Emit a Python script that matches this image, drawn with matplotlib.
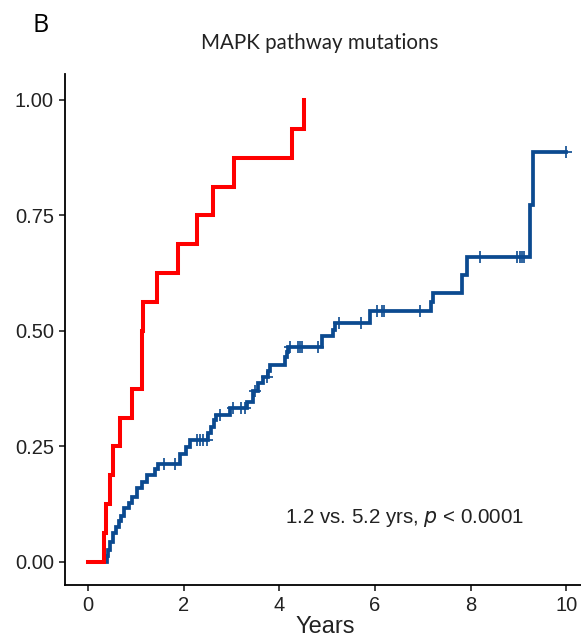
import numpy as np
import matplotlib
matplotlib.use("Agg")
import matplotlib.pyplot as plt

# MAPK-mutated group (red): step times (years) and cumulative incidence
red_times = [0.34, 0.38, 0.47, 0.53, 0.66, 0.93, 1.13, 1.16, 1.44, 1.89,
             2.27, 2.62, 3.05, 4.26, 4.52]
red_values = [0.0625, 0.125, 0.1875, 0.25, 0.3125, 0.375, 0.5, 0.5625, 0.625,
              0.6875, 0.75, 0.8125, 0.875, 0.9375, 1.0]

# wild-type group (blue)
blue_times = [0.40, 0.42, 0.47, 0.53, 0.58, 0.65, 0.70, 0.76, 0.86, 0.93,
              1.02, 1.12, 1.23, 1.40, 1.47, 1.92, 2.05, 2.13, 2.52, 2.58,
              2.64, 2.68, 2.97, 3.32, 3.46, 3.56, 3.67, 3.76, 3.81, 4.12,
              4.16, 4.19, 4.89, 5.12, 5.17, 5.90, 7.18, 7.22, 7.82, 7.92,
              9.25, 9.30]
blue_values = [0.013, 0.026, 0.044, 0.063, 0.076, 0.089, 0.100, 0.116, 0.128, 0.141,
               0.160, 0.174, 0.188, 0.200, 0.212, 0.234, 0.248, 0.263, 0.278, 0.293,
               0.307, 0.318, 0.333, 0.347, 0.369, 0.387, 0.401, 0.413, 0.426, 0.444,
               0.455, 0.466, 0.488, 0.503, 0.517, 0.542, 0.562, 0.582, 0.621, 0.659,
               0.773, 0.888]
blue_censor = [1.58, 1.82, 2.27, 2.34, 2.41, 2.48, 2.76, 3.04, 3.20, 3.28,
               3.50, 3.74, 4.23, 4.40, 4.44, 4.47, 4.82, 5.24, 5.70, 6.04,
               6.14, 6.19, 6.95, 8.20, 8.98, 9.03, 9.07, 9.12, 10.0]

red_c = "#FF0000"
blue_c = "#0B4A90"

fig = plt.figure(figsize=(5.81, 6.39), dpi=100)
ax = fig.add_axes([65 / 581, 1 - 585 / 639, (581 - 65) / 581, (585 - 74) / 639])

# blue curve, extended to last censor
bx = [0] + blue_times + [blue_censor[-1]]
by = [0] + blue_values + [blue_values[-1]]
ax.step(bx, by, where="post", color=blue_c, lw=2.7, solid_joinstyle="miter", zorder=2)

# censor marks sit on the curve
idx = np.searchsorted(bx, blue_censor, side="right") - 1
cy = np.array(by)[idx]
ax.plot(blue_censor, cy, ls="none", marker="+", ms=8, mew=1.2, color=blue_c, zorder=2)

# red curve on top
rx = [0] + red_times
ry = [0] + red_values
ax.step(rx, ry, where="post", color=red_c, lw=2.9, solid_joinstyle="miter", zorder=3)

ax.set_xlim(-0.48, 10.31)
ax.set_ylim(-0.05, 1.056)
ax.set_xticks([0, 2, 4, 6, 8, 10])
ax.set_yticks([0, 0.25, 0.5, 0.75, 1.0])
ax.set_yticklabels(["0.00", "0.25", "0.50", "0.75", "1.00"])
for s in ["top", "right"]:
    ax.spines[s].set_visible(False)
for s in ["left", "bottom"]:
    ax.spines[s].set_linewidth(1.3)
ax.tick_params(length=4, width=1.2, labelsize=14.5, colors="#222222", pad=4)
for lab in ax.get_xticklabels() + ax.get_yticklabels():
    lab.set_fontfamily("Liberation Sans")
    lab.set_color("#222222")

ax.text(6.63, 0.095, "1.2 vs. 5.2 yrs, $p$ < 0.0001", ha="center", va="center",
        fontsize=14.8, family="Liberation Sans", color="#222222")

fig.text(325 / 581, 1 - 627 / 639, "Years", ha="center", va="center",
         fontsize=17, family="Liberation Sans", color="#222222")
fig.text(320 / 581, 1 - 43 / 639, "MAPK pathway mutations", ha="center", va="center",
         fontsize=14.8, family="Lato", color="#222222")
fig.text(41 / 581, 1 - 25 / 639, "B", ha="center", va="center",
         fontsize=18, family="Open Sans", color="black")

fig.savefig("out.png", dpi=100)
